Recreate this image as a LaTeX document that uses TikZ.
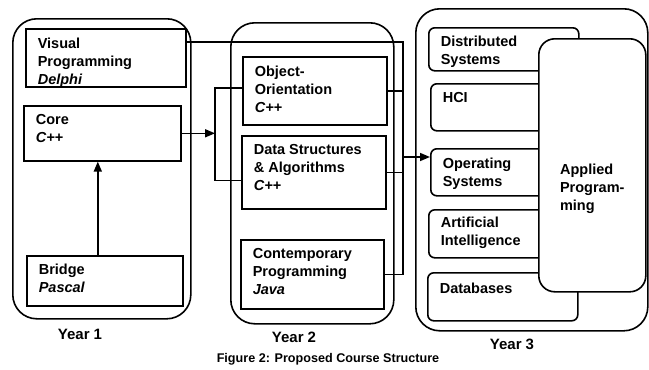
\documentclass[tikz,border=0pt]{standalone}
\usepackage{fontspec}
\setmainfont{Liberation Sans}
\usetikzlibrary{arrows.meta}

\tikzset{
  year/.style={draw, rounded corners=24pt, anchor=north west, inner sep=0pt},
  course/.style={draw, anchor=north west, inner sep=0pt},
  option/.style={course, rounded corners=6pt},
  lbl/.style={align=left, inner sep=0pt, font=\fontsize{14.5}{18}\selectfont\bfseries},
  intext/.style={lbl, anchor=north west, xshift=12pt, yshift=-9pt},
  yr/.style={font=\fontsize{15}{18}\selectfont\bfseries},
  arr/.style={-{Triangle[length=10pt,width=8pt]}},
}

\begin{document}
\begin{tikzpicture}[x=1pt, y=-1pt, line width=1.6pt]
      \useasboundingbox (0,0) rectangle (649,370);
      % the three years
      \node[year, minimum width=178, minimum height=300] (y1) at (12,18) {};
      \node[year, minimum width=163, minimum height=301] (y2) at (230,22) {};
      \node[year, minimum width=232, minimum height=322] (y3) at (415,8) {};
      \node[yr] (y1-lab) at (80,334) {Year 1};
      \node[yr] (y2-lab) at (294,337) {Year 2};
      \node[yr] (y3-lab) at (512,344) {Year 3};
      \node[font=\fontsize{12.6}{14}\selectfont\bfseries] (caption) at (328,359) {Figure 2: Proposed Course Structure};
      % year 1
      \node[course, minimum width=160, minimum height=58] (visual) at (25,28) {};
      \node[intext] (visual-t) at (visual.north west) {Visual\\Programming\\\textit{Delphi}};
      \node[course, minimum width=157, minimum height=55] (core) at (23,105) {};
      \node[intext] (core-t) at (core.north west) {Core\\\textit{C++}};
      \node[course, minimum width=156, minimum height=50] (bridge) at (26,255) {};
      \node[intext, yshift=1pt] (bridge-t) at (bridge.north west) {Bridge\\\textit{Pascal}};
      % year 2
      \node[course, minimum width=144, minimum height=68] (oo) at (242,56) {};
      \node[intext] (oo-t) at (oo.north west) {Object-\\Orientation\\\textit{C++}};
      \node[course, minimum width=144, minimum height=73] (ds) at (241,135) {};
      \node[intext] (ds-t) at (ds.north west) {Data Structures\\\& Algorithms\\\textit{C++}};
      \node[course, minimum width=143, minimum height=69] (cp) at (240,239) {};
      \node[intext] (cp-t) at (cp.north west) {Contemporary\\Programming\\\textit{Java}};
      % year 3
      \node[option, minimum width=150, minimum height=43] (dist) at (428,27) {};
      \node[intext, yshift=1pt] (dist-t) at (dist.north west) {Distributed\\Systems};
      \node[option, minimum width=148, minimum height=47] (hci) at (430,83) {};
      \node[intext] (hci-t) at (hci.north west) {HCI};
      \node[option, minimum width=148, minimum height=47] (os) at (430,148) {};
      \node[intext] (os-t) at (os.north west) {Operating\\Systems};
      \node[option, minimum width=150, minimum height=48] (ai) at (428,209) {};
      \node[intext, yshift=2pt] (ai-t) at (ai.north west) {Artificial\\Intelligence};
      \node[option, minimum width=150, minimum height=48] (db) at (427,272) {};
      \node[intext, yshift=-1pt] (db-t) at (db.north west) {Databases};
      \node[course, rounded corners=16pt, fill=white, minimum width=107, minimum height=253] (applied) at (538,38) {};
      \node[lbl] (applied-t) at ([yshift=-23pt]applied.center) {Applied\\Program-\\ming};
      % connectors
      \draw[arr] ([xshift=-7pt]bridge.north) -- ([xshift=-7pt]bridge.north |- core.south);
      \coordinate (split) at (core.east -| 215,0);
      \draw[arr] (core.east) -- (split);
      \draw ([yshift=3pt]oo.west) -| (split) |- ([yshift=-8pt]ds.west);
      \coordinate (bus) at (403,42);
      \draw (visual.east |- bus) -- (bus) -- (bus |- cp.east) -- (cp.east);
      \draw (oo.east) -- (oo.east -| bus);
      \draw (ds.east) -- (ds.east -| bus);
      \draw[arr] (bus |- 0,157) -- (os.west |- 0,157);
    \end{tikzpicture}
\end{document}
